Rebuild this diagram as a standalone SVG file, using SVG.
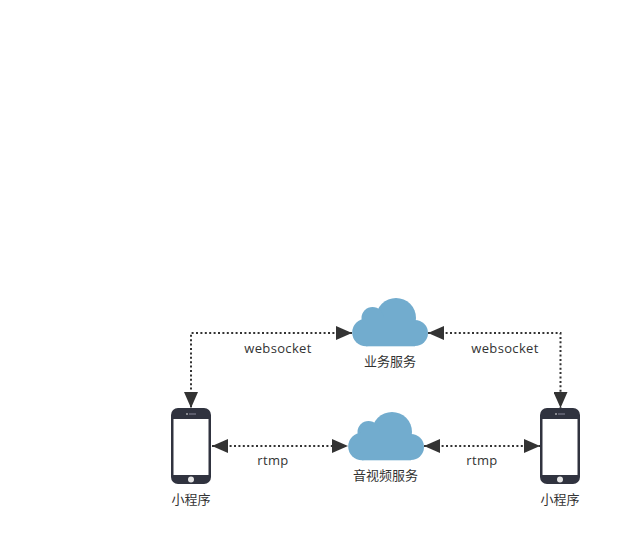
<svg xmlns="http://www.w3.org/2000/svg" width="642" height="546" viewBox="0 0 642 546">
<style>
text{font-family:"Open Sans","Noto Sans CJK SC",sans-serif;font-size:13px;fill:#333;text-anchor:middle}
.lat{letter-spacing:.35px}
.c{fill:none;stroke:#333;stroke-width:2;stroke-dasharray:2 2.4}
.cloud{fill:#72acce}
.body{fill:#30333f}
</style>
<defs>
<marker id="a" markerUnits="userSpaceOnUse" markerWidth="17" markerHeight="14" refX="16" refY="7" orient="auto-start-reverse"><path d="M0 0L16 7L0 14Z" fill="#333"/></marker>
<g id="cl" class="cloud"><circle cx="44" cy="20" r="20"/><circle cx="20.500" cy="20" r="11"/><circle cx="14" cy="34.500" r="13.800"/><circle cx="63" cy="35" r="13"/><rect x="14" y="20" width="49" height="28.300"/></g>
<g id="ph"><rect class="body" width="40" height="76" rx="7"/><rect x="2.500" y="11" width="35" height="56" fill="#fff"/><circle cx="20" cy="71.500" r="3" fill="#e6e6e6"/><rect x="15" y="5.500" width="2" height="1" fill="#ddd"/><rect x="18" y="5.500" width="7" height="1" fill="#889"/></g>
</defs>
<g id="connectors">
<path class="c" d="M352 333H191V408" marker-start="url(#a)" marker-end="url(#a)"/>
<path class="c" d="M428 333H560.500V408" marker-start="url(#a)" marker-end="url(#a)"/>
<path class="c" d="M212 446H348" marker-start="url(#a)" marker-end="url(#a)"/>
<path class="c" d="M424 446H540" marker-start="url(#a)" marker-end="url(#a)"/>
</g>
<g id="label-ws1"><text class="lat" x="278" y="353">websocket</text></g>
<g id="label-ws2"><text class="lat" x="505" y="353">websocket</text></g>
<g id="label-rtmp1"><text class="lat" x="273" y="465">rtmp</text></g>
<g id="label-rtmp2"><text class="lat" x="482" y="465">rtmp</text></g>
<g id="cloud-biz"><use href="#cl" x="352" y="298"/><text x="390" y="366">业务服务</text></g>
<g id="cloud-av"><use href="#cl" x="348" y="412"/><text x="385.500" y="480">音视频服务</text></g>
<g id="phone-left"><use href="#ph" x="171" y="408"/><text x="191" y="504">小程序</text></g>
<g id="phone-right"><use href="#ph" x="540" y="408"/><text x="560" y="504">小程序</text></g>
</svg>
